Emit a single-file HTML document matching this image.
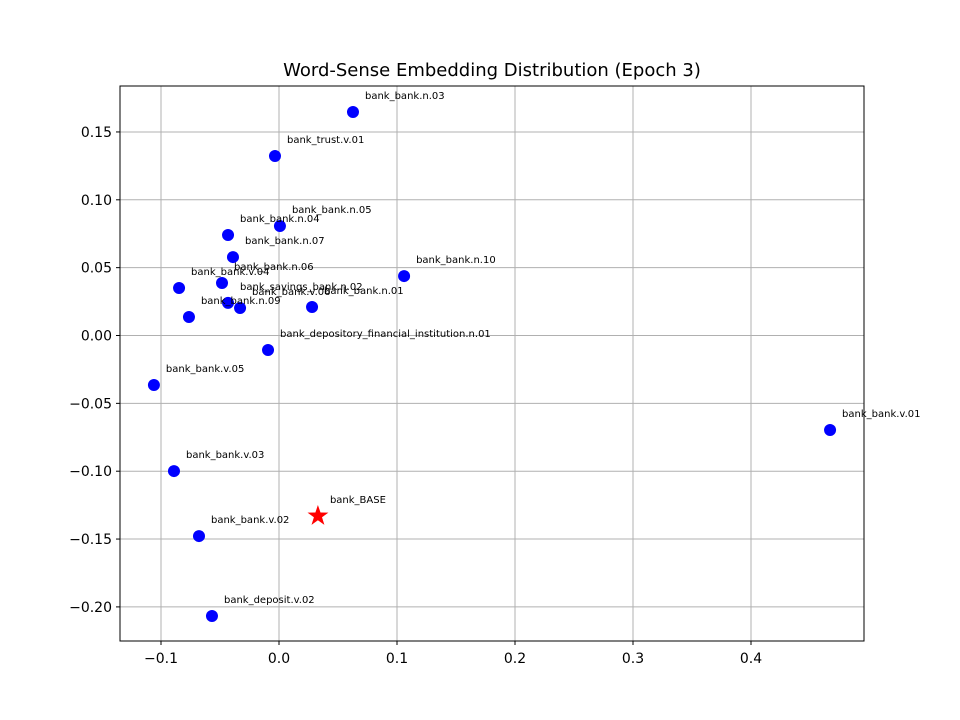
<!DOCTYPE html>
<html><head><meta charset="utf-8"><style>
body{margin:0;background:#fff;}
svg{display:block;font-family:"DejaVu Sans","Liberation Sans",sans-serif;}
</style></head><body>
<svg id="chart" width="960" height="720">
<rect width="960" height="720" fill="#fff"/>
<text x="492" y="76" font-size="18" text-anchor="middle">Word-Sense Embedding Distribution (Epoch 3)</text>
<g id="grid"></g><g id="ticks"></g><g id="marks"></g>
<rect x="120" y="86" width="744" height="555" fill="none" stroke="#000" stroke-width="1"/>
</svg>
<script>
const labels=["bank_bank.n.03","bank_trust.v.01","bank_bank.n.05","bank_bank.n.04","bank_bank.n.07","bank_bank.n.06","bank_bank.v.04","bank_savings_bank.n.02","bank_bank.v.06","bank_bank.n.01","bank_bank.n.10","bank_bank.n.09","bank_depository_financial_institution.n.01","bank_bank.v.05","bank_bank.v.01","bank_bank.v.03","bank_bank.v.02","bank_deposit.v.02"];
const xs=[0.0627,-0.0034,0.0008,-0.0432,-0.039,-0.0483,-0.0847,-0.0432,-0.033,0.028,0.106,-0.0763,-0.0093,-0.106,0.467,-0.089,-0.0678,-0.0568];
const ys=[0.1647,0.1323,0.0807,0.0741,0.0578,0.0387,0.035,0.024,0.0203,0.021,0.0438,0.0136,-0.0107,-0.0365,-0.0696,-0.0999,-0.1478,-0.2067];
const baseLabel="bank_BASE";
const baseX=0.033, baseY=-0.133;
const xTicks=[-0.1,0.0,0.1,0.2,0.3,0.4];
const yTicks=[-0.20,-0.15,-0.10,-0.05,0.00,0.05,0.10,0.15];
const X=v=>279+v*1180, Y=v=>335.5-v*1357;
const NS="http://www.w3.org/2000/svg";
function mk(t,a,p){const e=document.createElementNS(NS,t);for(const k in a)e.setAttribute(k,a[k]);p.appendChild(e);return e;}
const grid=document.getElementById('grid'),ticks=document.getElementById('ticks'),marks=document.getElementById('marks');
const fmt=v=>(v<0?"\u2212":"")+Math.abs(v).toFixed(1);
const fmt2=v=>(v<0?"\u2212":"")+Math.abs(v).toFixed(2);
xTicks.forEach(v=>{const x=X(v);
 const g=mk('line',{x1:x,x2:x,y1:86,y2:641,stroke:'#b0b0b0','stroke-width':1},grid);
 
 mk('line',{x1:x,x2:x,y1:641,y2:645,stroke:'#000'},ticks);
 const t=mk('text',{x:x,y:663,'font-size':14,'text-anchor':'middle'},ticks);t.textContent=fmt(v);
 });
yTicks.forEach(v=>{const y=Y(v);
 const g=mk('line',{x1:120,x2:864,y1:y,y2:y,stroke:'#b0b0b0','stroke-width':1},grid);
 
 mk('line',{x1:116,x2:120,y1:y,y2:y,stroke:'#000'},ticks);
 const t=mk('text',{x:112,y:y+5,'font-size':14,'text-anchor':'end'},ticks);t.textContent=fmt2(v);
 });
xs.forEach((v,i)=>{const cx=X(v),cy=Y(ys[i]);
 const c=mk('circle',{cx:cx,cy:cy,r:6,fill:'#0000ff'},marks);
 
 const t=mk('text',{x:cx+12,y:cy-13,'font-size':10},marks);t.textContent=labels[i];
 });
(function(){const cx=X(baseX),cy=Y(baseY),R=11,r=4.3;let p=[];
 for(let k=0;k<10;k++){const a=-Math.PI/2+k*Math.PI/5,rr=k%2?r:R;p.push((cx+rr*Math.cos(a)).toFixed(1)+','+(cy+rr*Math.sin(a)).toFixed(1));}
 const s=mk('polygon',{points:p.join(' '),fill:'#ff0000'},marks);
 
 const t=mk('text',{x:cx+12,y:cy-13,'font-size':10},marks);t.textContent=baseLabel;
 })();
</script>
</body></html>
